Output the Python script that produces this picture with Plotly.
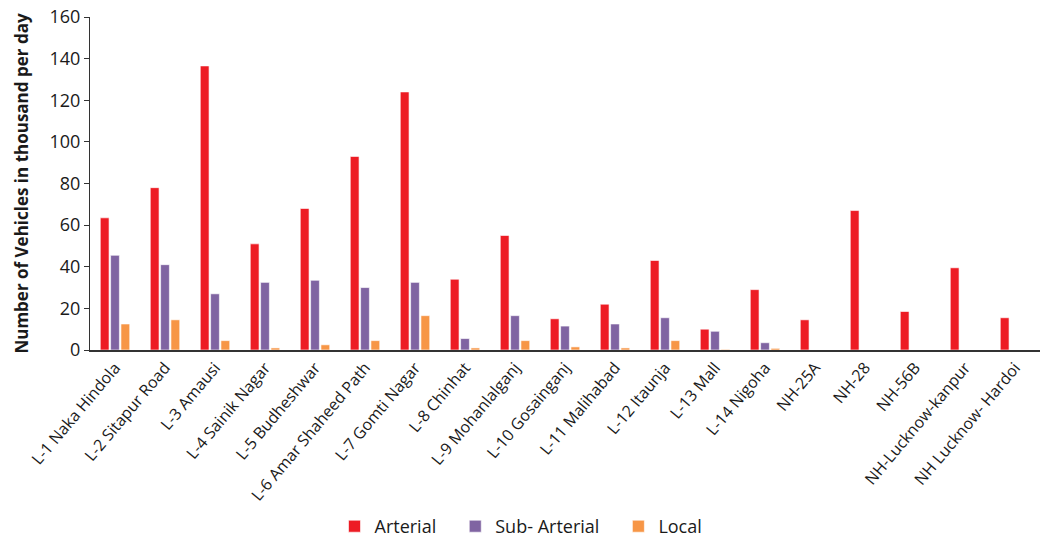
import plotly.graph_objects as go

categories = ["L-1 Naka Hindola", "L-2 Sitapur Road", "L-3 Amausi", "L-4 Sainik Nagar",
              "L-5 Budheshwar", "L-6 Amar Shaheed Path", "L-7 Gomti Nagar", "L-8 Chinhat",
              "L-9 Mohanlalganj", "L-10 Gosainganj", "L-11 Malihabad", "L-12 Itaunja",
              "L-13 Mall", "L-14 Nigoha", "NH-25A", "NH-28", "NH-56B",
              "NH-Lucknow-kanpur", "NH Lucknow- Hardoi"]
arterial = [63.5, 78, 136.5, 51, 68, 93, 124, 34, 55, 15, 22, 43, 10, 29, 14.5, 67, 18.5, 39.5, 15.5]
sub_arterial = [45.5, 41, 27, 32.5, 33.5, 30, 32.5, 5.5, 16.5, 11.5, 12.5, 15.5, 9, 3.5, 0, 0, 0, 0, 0]
local = [12.5, 14.5, 4.5, 1, 2.5, 4.5, 16.5, 1, 4.5, 1.5, 1, 4.5, 0.3, 0.8, 0, 0, 0, 0, 0]
series_names = ["Arterial", "Sub- Arterial", "Local"]

FONT = "Open Sans"
fig = go.Figure()
for name, vals, col in [(series_names[0], arterial, "#ED1C24"),
                        (series_names[1], sub_arterial, "#8064A2"),
                        (series_names[2], local, "#F79646")]:
    fig.add_trace(go.Bar(x=categories, y=vals, name=name + "\u00a0\u00a0\u00a0",
                         marker_color=col,
                         marker_line=dict(color="rgba(255,255,255,0.6)", width=1)))

fig.update_layout(
    width=1056, height=540,
    margin=dict(l=90, r=16, t=17, b=190, autoexpand=False),
    plot_bgcolor="white", paper_bgcolor="white",
    barmode="group", bargap=0.38, bargroupgap=0.15,
    font=dict(family=FONT, size=16, color="#1a1a1a"),
    legend=dict(orientation="h", x=0.5, xanchor="center", xref="container",
                y=0.025, yanchor="middle", yref="container",
                font=dict(size=18), itemwidth=30, traceorder="normal"),
    showlegend=True,
)
fig.update_yaxes(range=[0, 160], dtick=20, showgrid=False, showline=True, linecolor="#333",
                 linewidth=1, ticks="outside", ticklen=5, tickcolor="#333",
                 title=dict(text="<b>Number of Vehicles in thousand per day</b>",
                            font=dict(size=17), standoff=16),
                 tickfont=dict(size=18), zeroline=False, automargin=False)
fig.update_xaxes(showline=True, linecolor="#333", linewidth=2, tickangle=-50,
                 ticks="", tickfont=dict(size=16), automargin=False)

fig.write_html("out.html")
